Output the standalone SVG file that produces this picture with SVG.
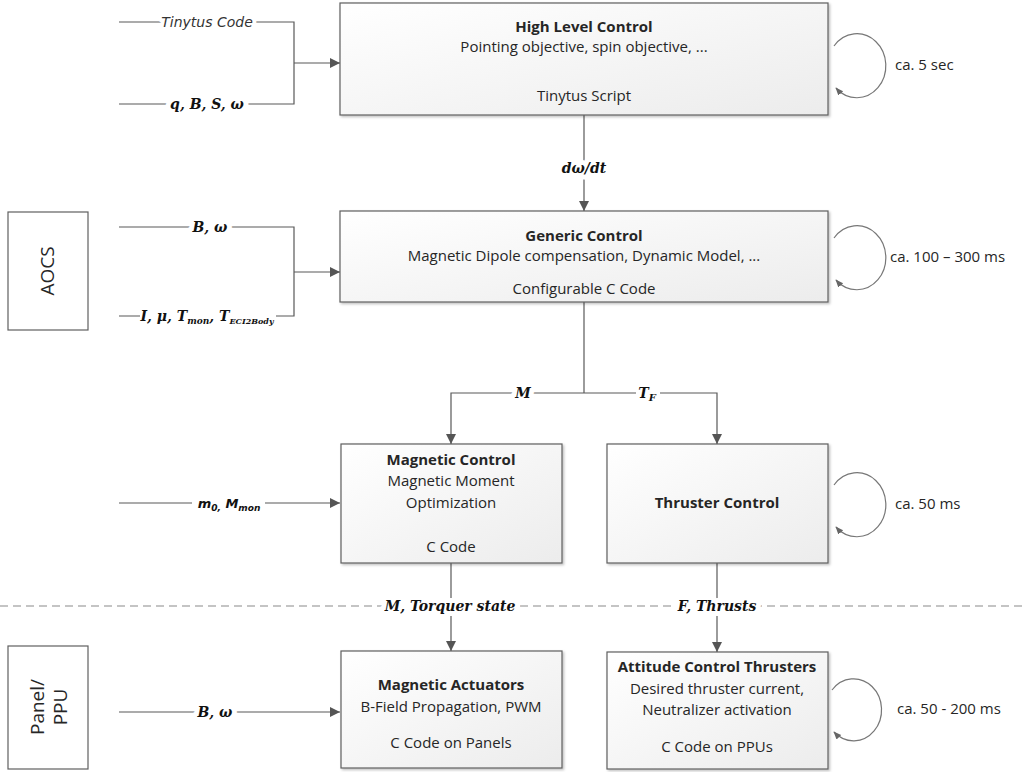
<svg xmlns="http://www.w3.org/2000/svg" width="1026" height="772" viewBox="0 0 1026 772">
<defs>
<linearGradient id="bg" x1="0" y1="0" x2="1" y2="1">
<stop offset="0" stop-color="#ffffff"/>
<stop offset="1" stop-color="#ececec"/>
</linearGradient>
<marker id="ah" viewBox="0 0 10 10" refX="10" refY="5" markerWidth="10" markerHeight="10" markerUnits="userSpaceOnUse" orient="auto">
<path d="M0,0 L10,5 L0,10 z" fill="#555"/>
</marker>
<marker id="ahs" viewBox="0 0 10 10" refX="9" refY="5" markerWidth="8" markerHeight="8" markerUnits="userSpaceOnUse" orient="auto">
<path d="M0,1 L10,5 L0,9 z" fill="#666"/>
</marker>
<filter id="sh" x="-5%" y="-5%" width="110%" height="115%">
<feDropShadow dx="1.5" dy="1.5" stdDeviation="1" flood-color="#000" flood-opacity="0.25"/>
</filter>
</defs>
<style>
.box{fill:url(#bg);stroke:#5f5f5f;stroke-width:1.2;filter:url(#sh)}
.side{fill:#fff;stroke:#5f5f5f;stroke-width:1.2}
.ln{fill:none;stroke:#595959;stroke-width:1.2}
.ar{fill:none;stroke:#595959;stroke-width:1.2;marker-end:url(#ah)}
.loop{fill:none;stroke:#777;stroke-width:1.2;marker-end:url(#ahs)}
.dash{fill:none;stroke:#8a8a8a;stroke-width:1.2;stroke-dasharray:8 5}
.bgw{fill:#fff}
.t{font-family:"Open Sans","Liberation Sans",sans-serif;font-size:15px;fill:#262626;text-anchor:middle}
.b{font-weight:bold;font-size:15px}
.r{font-family:"Open Sans","Liberation Sans",sans-serif;font-size:15px;fill:#262626}
.s{font-family:"Open Sans","Liberation Sans",sans-serif;font-size:19px;fill:#262626;text-anchor:middle}
.m{font-family:"DejaVu Serif","Liberation Serif",serif;font-size:14px;font-weight:bold;font-style:italic;fill:#111;text-anchor:middle;paint-order:stroke;stroke:#fff;stroke-width:10px;stroke-linejoin:round}
.m2{font-family:"DejaVu Serif","Liberation Serif",serif;font-size:14px;font-weight:bold;font-style:italic;fill:#111;text-anchor:middle}
.mi{font-family:"DejaVu Sans","Liberation Sans",sans-serif;font-size:14px;font-style:italic;fill:#333;text-anchor:middle;paint-order:stroke;stroke:#fff;stroke-width:8px;stroke-linejoin:round}
.ms{font-family:"DejaVu Sans","Liberation Sans",sans-serif;font-size:13px;font-weight:bold;font-style:italic;fill:#111;text-anchor:middle}
</style>

<g id="connectors">
<path class="ln" d="M119,22 H294 V104 H119"/>
<path class="ar" d="M294,63 H340"/>
<path class="ln" d="M119,227 H294 V316 H119"/>
<path class="ar" d="M294,272 H340"/>
<path class="ar" d="M584,115 V211"/>
<path class="ln" d="M584,302 V393"/>
<path class="ar" d="M584,393 H451 V444"/>
<path class="ar" d="M584,393 H717 V444"/>
<path class="ar" d="M119,503 H340"/>
<path class="ar" d="M451,563 V651"/>
<path class="ar" d="M717,563 V652"/>
<path class="ar" d="M119,712 H340"/>
<path class="dash" d="M0,606 H1026"/>
<path class="loop" d="M834,46 A29,32 0 1 1 836,88"/>
<path class="loop" d="M834,238 A29,32 0 1 1 836,280"/>
<path class="loop" d="M834,485 A29,32 0 1 1 836,527"/>
<path class="loop" d="M832,690 A28,31 0 1 1 834,732"/>
<rect class="bgw" x="140" y="307" width="136" height="18"/>
<rect class="bgw" x="192" y="494" width="73" height="19"/>
<rect class="bgw" x="636" y="386" width="24" height="16"/>
<text class="mi" x="207" y="27">Tinytus Code</text>
<text class="m" x="207" y="109">q, B, S, ω</text>
<text class="m" x="210" y="232">B, ω</text>
<text class="m2" x="207" y="321">I, μ, T<tspan font-size="9" dy="3">mon</tspan><tspan dy="-3">, T</tspan><tspan font-size="8" dy="3">ECI2Body</tspan></text>
<text class="m" x="584" y="173">dω/dt</text>
<text class="m" x="523" y="398">M</text>
<text class="m2" x="647" y="398">T<tspan font-size="10" dy="3">F</tspan></text>
<text class="ms" x="229" y="508">m<tspan font-size="9" dy="3">0,</tspan><tspan dy="-3"> M</tspan><tspan font-size="9" dy="3">mon</tspan></text>
<text class="m" x="450" y="611">M, Torquer state</text>
<text class="m" x="717" y="611">F, Thrusts</text>
<text class="m" x="215" y="717">B, ω</text>
<text class="r" x="895" y="70">ca. 5 sec</text>
<text class="r" x="890" y="262">ca. 100 – 300 ms</text>
<text class="r" x="895" y="509">ca. 50 ms</text>
<text class="r" x="897" y="714">ca. 50 - 200 ms</text>
</g>

<g id="high-level-control">
<rect class="box" x="340" y="3" width="488" height="112"/>
<text class="t b" x="584" y="32">High Level Control</text>
<text class="t" x="584" y="52">Pointing objective, spin objective, ...</text>
<text class="t" x="584" y="101">Tinytus Script</text>
</g>

<g id="generic-control">
<rect class="box" x="340" y="211" width="488" height="91"/>
<text class="t b" x="584" y="241">Generic Control</text>
<text class="t" x="584" y="261">Magnetic Dipole compensation, Dynamic Model, ...</text>
<text class="t" x="584" y="294">Configurable C Code</text>
</g>

<g id="magnetic-control">
<rect class="box" x="341" y="444" width="221" height="119"/>
<text class="t b" x="451" y="465">Magnetic Control</text>
<text class="t" x="451" y="486">Magnetic Moment</text>
<text class="t" x="451" y="508">Optimization</text>
<text class="t" x="451" y="552">C Code</text>
</g>

<g id="thruster-control">
<rect class="box" x="607" y="444" width="221" height="119"/>
<text class="t b" x="717" y="508">Thruster Control</text>
</g>

<g id="magnetic-actuators">
<rect class="box" x="341" y="651" width="221" height="117"/>
<text class="t b" x="451" y="690">Magnetic Actuators</text>
<text class="t" x="451" y="712">B-Field Propagation, PWM</text>
<text class="t" x="451" y="748">C Code on Panels</text>
</g>

<g id="attitude-control-thrusters">
<rect class="box" x="607" y="652" width="221" height="117"/>
<text class="t b" x="717" y="672">Attitude Control Thrusters</text>
<text class="t" x="717" y="694">Desired thruster current,</text>
<text class="t" x="717" y="715">Neutralizer activation</text>
<text class="t" x="717" y="752">C Code on PPUs</text>
</g>

<g id="aocs">
<rect class="side" x="8" y="212" width="80" height="118"/>
<text class="s" transform="translate(54,271) rotate(-90)">AOCS</text>
</g>

<g id="panel-ppu">
<rect class="side" x="8" y="646" width="80" height="123"/>
<text class="s" transform="translate(48,707) rotate(-90)"><tspan x="0" y="-4">Panel/</tspan><tspan x="0" y="19">PPU</tspan></text>
</g>
</svg>
